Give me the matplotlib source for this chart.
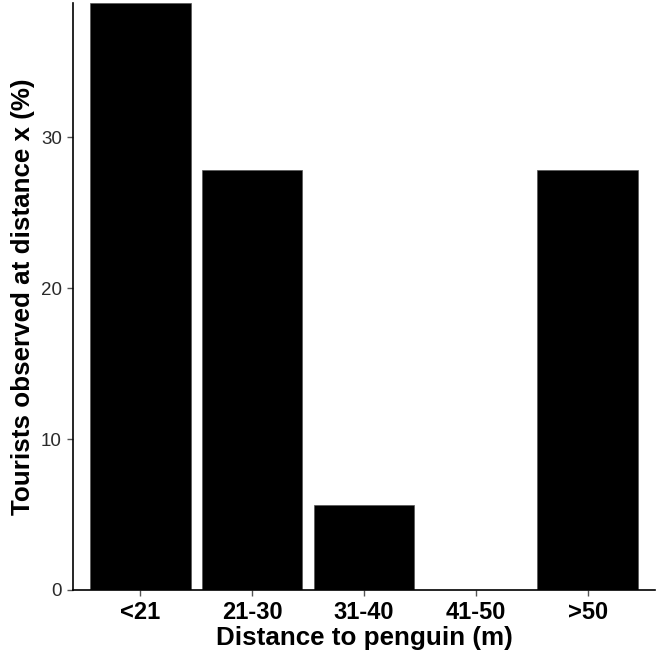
import matplotlib
matplotlib.use('Agg')
import matplotlib.pyplot as plt

# Daten
categories = ['<21', '21-30', '31-40', '41-50', '>50']
percent = [38.9, 27.8, 5.6, 0.0, 27.8]
y_ticks = [0, 10, 20, 30]

plt.rcParams['font.family'] = ['Liberation Sans', 'DejaVu Sans']

fig = plt.figure(figsize=(6.58, 6.58), dpi=100)
ax = fig.add_axes([73 / 658, 68 / 658, 582 / 658, 587 / 658])

x = range(len(categories))
ax.bar(x, percent, width=0.9, color='black', edgecolor='#555555', linewidth=0.5)

ax.set_xlim(-0.6, len(categories) - 0.4)
ax.set_ylim(0, max(percent))
ax.set_xticks(list(x))
ax.set_xticklabels(categories, fontsize=17, fontweight='bold')
ax.set_yticks(y_ticks)
ax.set_yticklabels([str(v) for v in y_ticks], fontsize=13.5, color='#2a2a2a')

ax.tick_params(axis='both', length=4, width=1, color='#555555')
ax.tick_params(axis='x', pad=4)
ax.tick_params(axis='y', pad=4)

for side in ['top', 'right']:
    ax.spines[side].set_visible(False)
for side in ['left', 'bottom']:
    ax.spines[side].set_linewidth(1.2)
    ax.spines[side].set_color('black')

ax.set_xlabel('Distance to penguin (m)', fontsize=18.7, fontweight='bold', labelpad=1)
ax.set_ylabel('Tourists observed at distance x (%)', fontsize=18.7, fontweight='bold', labelpad=4)

fig.savefig('out.png', dpi=100)
